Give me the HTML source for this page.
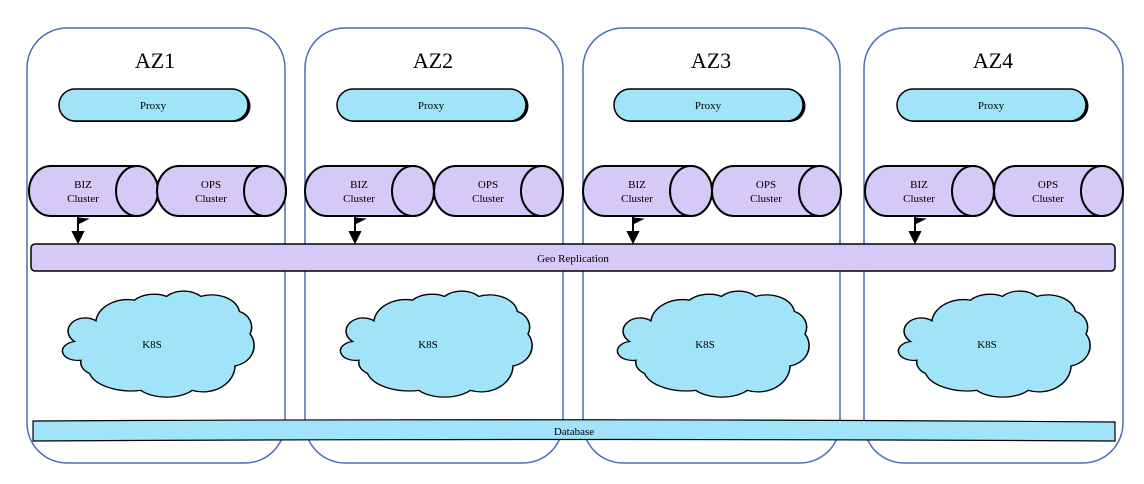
<!DOCTYPE html>
<html><head><meta charset="utf-8"><style>
html,body{margin:0;padding:0;background:#fff;}
svg{display:block;font-family:"Liberation Serif",serif;}
</style></head><body>
<svg width="1144" height="484" viewBox="0 0 1144 484" xmlns="http://www.w3.org/2000/svg">
<defs>
<g id="cyl">
 <path d="M22,0 H107 A22,25 0 0 1 107,50 H22 A22,25 0 0 1 22,0 Z" fill="#d4c9f7" stroke="#000" stroke-width="2"/>
 <ellipse cx="108" cy="25" rx="21" ry="25" fill="#d4c9f7" stroke="#000" stroke-width="2"/>
</g>
<path id="cloud" d="M-78,-8 A16,14 0 0 1 -58,-30 A30,25 0 0 1 -22,-52 A24,18 0 0 1 8,-56 A22,18 0 0 1 40,-56 A26,20 0 0 1 76,-40 A18,18 0 0 1 86,-16 A22,22 0 0 1 72,18 A30,28 0 0 1 32,44 A30,18 0 0 1 -16,44 A40,24 0 0 1 -64,26 A18,14 0 0 1 -72,12 A14,10 0 0 1 -78,-8 Z" fill="#a1e3f8" stroke="#000" stroke-width="1.4"/>
</defs>

<g fill="#fff" stroke="#4a6fb5" stroke-width="1.5">
<rect x="27" y="28" width="258" height="435" rx="40"/>
<rect x="305" y="28" width="258" height="435" rx="40"/>
<rect x="583" y="28" width="257" height="435" rx="40"/>
<rect x="864" y="28" width="259" height="435" rx="40"/>
</g>
<g font-size="22" text-anchor="middle">
<text x="155" y="68">AZ1</text>
<text x="433" y="68">AZ2</text>
<text x="711" y="68">AZ3</text>
<text x="993" y="68">AZ4</text>
</g>

<g font-size="11" text-anchor="middle">
<g transform="translate(59,89)"><rect x="1.5" y="1" width="190" height="32" rx="16" fill="#000"/><rect width="189" height="32" rx="16" fill="#a1e3f8" stroke="#000" stroke-width="1.5"/><text x="94" y="20">Proxy</text></g>
<g transform="translate(337,89)"><rect x="1.5" y="1" width="190" height="32" rx="16" fill="#000"/><rect width="189" height="32" rx="16" fill="#a1e3f8" stroke="#000" stroke-width="1.5"/><text x="94" y="20">Proxy</text></g>
<g transform="translate(614,89)"><rect x="1.5" y="1" width="190" height="32" rx="16" fill="#000"/><rect width="189" height="32" rx="16" fill="#a1e3f8" stroke="#000" stroke-width="1.5"/><text x="94" y="20">Proxy</text></g>
<g transform="translate(897,89)"><rect x="1.5" y="1" width="190" height="32" rx="16" fill="#000"/><rect width="189" height="32" rx="16" fill="#a1e3f8" stroke="#000" stroke-width="1.5"/><text x="94" y="20">Proxy</text></g>
</g>

<g font-size="11" text-anchor="middle">
<use href="#cyl" x="29" y="166"/><text x="83" y="188">BIZ</text><text x="83" y="202">Cluster</text>
<use href="#cyl" x="157" y="166"/><text x="211" y="188">OPS</text><text x="211" y="202">Cluster</text>
<use href="#cyl" x="305" y="166"/><text x="359" y="188">BIZ</text><text x="359" y="202">Cluster</text>
<use href="#cyl" x="434" y="166"/><text x="488" y="188">OPS</text><text x="488" y="202">Cluster</text>
<use href="#cyl" x="583" y="166"/><text x="637" y="188">BIZ</text><text x="637" y="202">Cluster</text>
<use href="#cyl" x="712" y="166"/><text x="766" y="188">OPS</text><text x="766" y="202">Cluster</text>
<use href="#cyl" x="865" y="166"/><text x="919" y="188">BIZ</text><text x="919" y="202">Cluster</text>
<use href="#cyl" x="994" y="166"/><text x="1048" y="188">OPS</text><text x="1048" y="202">Cluster</text>
</g>

<g stroke="#000" stroke-width="2" fill="#000">
<g transform="translate(78,0)"><line x1="0" y1="217" x2="0" y2="234"/><path d="M-5,232 L5,232 L0,242 Z"/><path d="M0,218 L10,219 L0,224 Z" stroke-width="1"/></g>
<g transform="translate(355,0)"><line x1="0" y1="217" x2="0" y2="234"/><path d="M-5,232 L5,232 L0,242 Z"/><path d="M0,218 L10,219 L0,224 Z" stroke-width="1"/></g>
<g transform="translate(633,0)"><line x1="0" y1="217" x2="0" y2="234"/><path d="M-5,232 L5,232 L0,242 Z"/><path d="M0,218 L10,219 L0,224 Z" stroke-width="1"/></g>
<g transform="translate(915,0)"><line x1="0" y1="217" x2="0" y2="234"/><path d="M-5,232 L5,232 L0,242 Z"/><path d="M0,218 L10,219 L0,224 Z" stroke-width="1"/></g>
</g>

<rect x="31" y="244" width="1084" height="27" rx="4" fill="#d4c9f7" stroke="#000" stroke-width="1.5"/>
<text x="573" y="262" font-size="11" text-anchor="middle">Geo Replication</text>

<g font-size="11" text-anchor="middle">
<use href="#cloud" transform="translate(158,349) scale(1.07,0.94)"/><text x="152" y="348">K8S</text>
<use href="#cloud" transform="translate(436,349) scale(1.07,0.94)"/><text x="428" y="348">K8S</text>
<use href="#cloud" transform="translate(713,349) scale(1.07,0.94)"/><text x="705" y="348">K8S</text>
<use href="#cloud" transform="translate(994,349) scale(1.07,0.94)"/><text x="987" y="348">K8S</text>
</g>

<path d="M33,421 Q573,418 1115,422 L1115,441 Q573,438 33,441 Z" fill="#a1e3f8" stroke="#000" stroke-width="1.2"/>
<text x="574" y="435" font-size="11" text-anchor="middle">Database</text>
</svg>
</body></html>
